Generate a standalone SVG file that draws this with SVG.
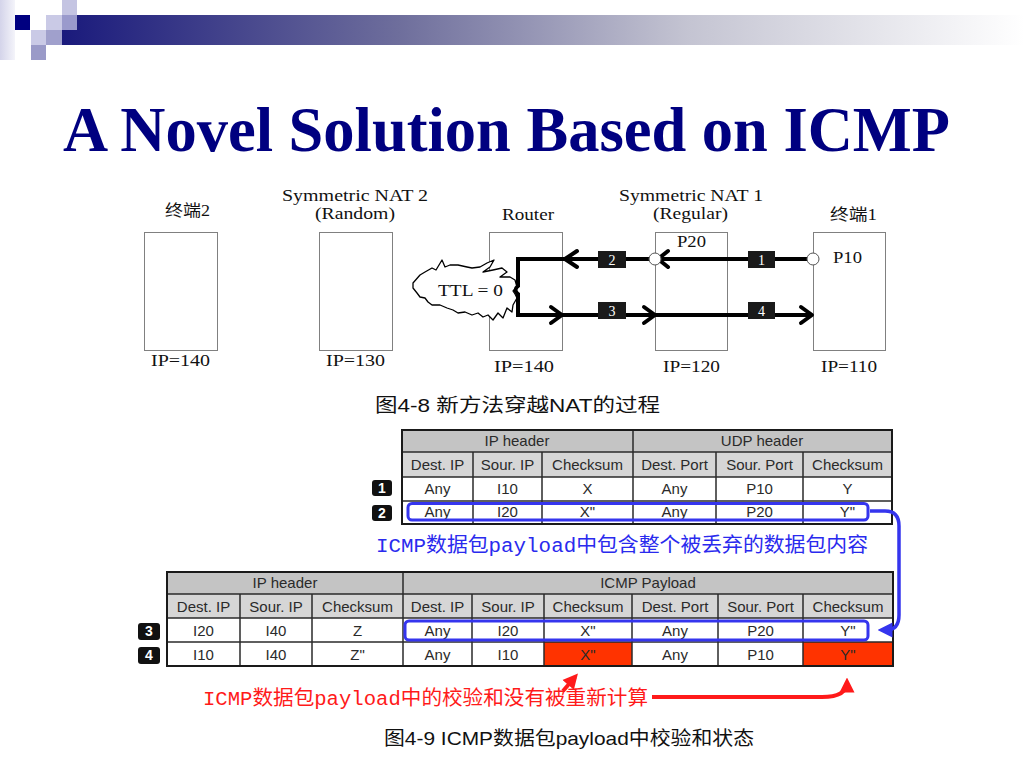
<svg xmlns="http://www.w3.org/2000/svg" width="1024" height="768" viewBox="0 0 1024 768">
<style>
.title{font-family:"Liberation Serif","Times New Roman",serif;font-weight:bold;font-size:64px;fill:#000080}
.lbl{font-family:"Liberation Serif","Noto Sans CJK SC",serif;font-size:16px;fill:#111}
.box{fill:#fff;stroke:#808080;stroke-width:1}
.flow{fill:none;stroke:#000;stroke-width:4}
.chev{fill:none;stroke:#000;stroke-width:4;stroke-linecap:round;stroke-linejoin:round}
.num{fill:#1a1a1a}
.numt{font-family:"Liberation Serif",serif;font-size:14px;fill:#fff;text-anchor:middle}
.port{fill:#fff;stroke:#555;stroke-width:1}
.th{fill:#c4c4c4}
.ch{fill:#d6d6d6}
.red{fill:#ff3300}
.tl{stroke:#2a2a2a;stroke-width:1.5}
.tout{fill:none;stroke:#1a1a1a;stroke-width:2}
.tt{font-family:"Liberation Sans",Arial,sans-serif;font-size:15px;fill:#2a2a2a;text-anchor:middle}
.badge{fill:#111}
.badget{font-family:"Liberation Sans",Arial,sans-serif;font-size:14px;font-weight:bold;fill:#fff;text-anchor:middle}
.hl{fill:none;stroke:#3535ee;stroke-width:3}
.note{font-family:"Liberation Mono","Noto Sans CJK SC",monospace;font-size:20px}
.cap{font-family:"Liberation Sans","Noto Sans CJK SC",sans-serif;font-size:19px;fill:#111}
</style>
<defs>
<linearGradient id="bar" x1="0" y1="0" x2="1" y2="0">
<stop offset="0" stop-color="#1a1a7c"/>
<stop offset="0.35" stop-color="#6e6e9c"/>
<stop offset="0.65" stop-color="#c4c4d2"/>
<stop offset="1" stop-color="#ffffff"/>
</linearGradient>
<linearGradient id="edge" x1="0" y1="0" x2="1" y2="0">
<stop offset="0" stop-color="#d4d4ea"/>
<stop offset="1" stop-color="#f4f4fa"/>
</linearGradient>
<marker id="ab" viewBox="0 0 10 10" refX="7" refY="5" markerUnits="userSpaceOnUse" markerWidth="15" markerHeight="16" orient="auto">
<path d="M0,0 L10,5 L0,10 z" fill="#3535ee"/>
</marker>
<marker id="ar" viewBox="0 0 10 10" refX="7" refY="5" markerUnits="userSpaceOnUse" markerWidth="15" markerHeight="17" orient="auto">
<path d="M0,0 L10,5 L0,10 z" fill="#ff1a1a"/>
</marker>
</defs>
<rect width="1024" height="768" fill="#fff"/>

<!-- decoration -->
<g id="decor">
<rect x="0" y="0" width="15" height="60" fill="url(#edge)"/>
<rect x="62" y="15" width="962" height="30" fill="url(#bar)"/>
<rect x="15" y="15" width="15" height="15" fill="#000080"/>
<rect x="62" y="0" width="15" height="15" fill="#c4c4e2"/>
<rect x="46" y="15" width="16" height="15" fill="#cacae6"/>
<rect x="62" y="15" width="15" height="15" fill="#9a9acc"/>
<rect x="31" y="30" width="15" height="15" fill="#cacae6"/>
<rect x="46" y="30" width="16" height="15" fill="#a0a0cc"/>
<rect x="31" y="45" width="15" height="15" fill="#9a9ac8"/>
</g>

<text class="title" x="63" y="151" textLength="887" lengthAdjust="spacingAndGlyphs">A Novel Solution Based on ICMP</text>

<!-- top diagram nodes -->
<g id="term2">
<rect class="box" x="144.5" y="232.5" width="73" height="118"/>
<text class="lbl" x="165" y="216" textLength="45" lengthAdjust="spacingAndGlyphs">终端2</text>
<text class="lbl" x="151" y="366" textLength="59" lengthAdjust="spacingAndGlyphs">IP=140</text>
</g>
<g id="nat2">
<rect class="box" x="319.5" y="232.5" width="73" height="118"/>
<text class="lbl" x="282" y="201" textLength="146" lengthAdjust="spacingAndGlyphs">Symmetric NAT 2</text>
<text class="lbl" x="315" y="219" textLength="80" lengthAdjust="spacingAndGlyphs">(Random)</text>
<text class="lbl" x="326" y="366" textLength="59" lengthAdjust="spacingAndGlyphs">IP=130</text>
</g>
<g id="router">
<rect class="box" x="489.5" y="232.5" width="73" height="118"/>
<text class="lbl" x="502" y="220" textLength="52" lengthAdjust="spacingAndGlyphs">Router</text>
<text class="lbl" x="494" y="372" textLength="60" lengthAdjust="spacingAndGlyphs">IP=140</text>
</g>
<g id="nat1">
<rect class="box" x="655.5" y="232.5" width="72" height="118"/>
<text class="lbl" x="619" y="201" textLength="144" lengthAdjust="spacingAndGlyphs">Symmetric NAT 1</text>
<text class="lbl" x="653" y="219" textLength="75" lengthAdjust="spacingAndGlyphs">(Regular)</text>
<text class="lbl" x="677" y="247" textLength="29" lengthAdjust="spacingAndGlyphs">P20</text>
<text class="lbl" x="663" y="372" textLength="57" lengthAdjust="spacingAndGlyphs">IP=120</text>
</g>
<g id="term1">
<rect class="box" x="813.5" y="232.5" width="72" height="118"/>
<text class="lbl" x="830" y="220" textLength="47" lengthAdjust="spacingAndGlyphs">终端1</text>
<text class="lbl" x="833" y="263" textLength="29" lengthAdjust="spacingAndGlyphs">P10</text>
<text class="lbl" x="821" y="372" textLength="56" lengthAdjust="spacingAndGlyphs">IP=110</text>
</g>
<g id="ttl">
<path d="M413,283 L420,275 L425,272 L432,268 L436,270 L442,260 L445,267 L450,265 L458,265 L467,267 L472,268 L480,267 L487,263 L494,260 L490,267 L483,272 L493,270 L502,268 L507,272 L500,277 L510,277 L515,280 L517,287 L513,291 L515,294 L517,298 L513,305 L512,312 L507,308 L503,318 L498,313 L493,320 L488,315 L483,317 L478,313 L472,315 L465,312 L458,313 L453,310 L447,308 L440,305 L432,305 L428,302 L425,298 L420,297 L417,293 L413,288 Z" fill="#fff" stroke="#000" stroke-width="1.3" stroke-linejoin="round"/>
<text class="lbl" x="438" y="296" textLength="65" lengthAdjust="spacingAndGlyphs">TTL = 0</text>
</g>

<text class="cap" x="375" y="412" textLength="285" lengthAdjust="spacingAndGlyphs">图4-8 新方法穿越NAT的过程</text>

<!-- table 1 -->
<g id="table1">
<rect class="th" x="402" y="430" width="490" height="22"/>
<rect class="ch" x="402" y="452" width="490" height="25"/>
<rect x="402" y="477" width="490" height="47" fill="#fff"/>
<line class="tl" x1="402" y1="452" x2="892" y2="452"/>
<line class="tl" x1="402" y1="477" x2="892" y2="477"/>
<line class="tl" x1="402" y1="501" x2="892" y2="501"/>
<line class="tl" x1="633" y1="430" x2="633" y2="524"/>
<line class="tl" x1="473" y1="452" x2="473" y2="524"/>
<line class="tl" x1="542" y1="452" x2="542" y2="524"/>
<line class="tl" x1="716" y1="452" x2="716" y2="524"/>
<line class="tl" x1="803" y1="452" x2="803" y2="524"/>
<rect class="tout" x="402" y="430" width="490" height="94"/>
<text class="tt" x="517" y="446">IP header</text>
<text class="tt" x="762" y="446">UDP header</text>
<text class="tt" x="437.5" y="470">Dest. IP</text>
<text class="tt" x="507.5" y="470">Sour. IP</text>
<text class="tt" x="587.5" y="470">Checksum</text>
<text class="tt" x="674.5" y="470">Dest. Port</text>
<text class="tt" x="759.5" y="470">Sour. Port</text>
<text class="tt" x="847.5" y="470">Checksum</text>
<text class="tt" x="437.5" y="494">Any</text>
<text class="tt" x="507.5" y="494">I10</text>
<text class="tt" x="587.5" y="494">X</text>
<text class="tt" x="674.5" y="494">Any</text>
<text class="tt" x="759.5" y="494">P10</text>
<text class="tt" x="847.5" y="494">Y</text>
<text class="tt" x="437.5" y="517">Any</text>
<text class="tt" x="507.5" y="517">I20</text>
<text class="tt" x="587.5" y="517">X"</text>
<text class="tt" x="674.5" y="517">Any</text>
<text class="tt" x="759.5" y="517">P20</text>
<text class="tt" x="847.5" y="517">Y"</text>
<rect class="hl" x="408" y="503.5" width="460" height="16.5" rx="4"/>
<rect class="badge" x="372" y="480" width="20" height="16" rx="3"/>
<text class="badget" x="382" y="493">1</text>
<rect class="badge" x="372" y="505" width="20" height="16" rx="3"/>
<text class="badget" x="382" y="518">2</text>
</g>

<text class="note" x="376" y="552" fill="#2a2aee" textLength="492" lengthAdjust="spacingAndGlyphs">ICMP数据包payload中包含整个被丢弃的数据包内容</text>

<!-- table 2 -->
<g id="table2">
<rect class="th" x="167" y="572" width="726" height="22"/>
<rect class="ch" x="167" y="594" width="726" height="24"/>
<rect x="167" y="618" width="726" height="48" fill="#fff"/>
<rect class="red" x="544" y="642" width="88" height="24"/>
<rect class="red" x="803" y="642" width="90" height="24"/>
<line class="tl" x1="167" y1="594" x2="893" y2="594"/>
<line class="tl" x1="167" y1="618" x2="893" y2="618"/>
<line class="tl" x1="167" y1="642" x2="893" y2="642"/>
<line class="tl" x1="403" y1="572" x2="403" y2="666"/>
<line class="tl" x1="240" y1="594" x2="240" y2="666"/>
<line class="tl" x1="312" y1="594" x2="312" y2="666"/>
<line class="tl" x1="472" y1="594" x2="472" y2="666"/>
<line class="tl" x1="544" y1="594" x2="544" y2="666"/>
<line class="tl" x1="632" y1="594" x2="632" y2="666"/>
<line class="tl" x1="718" y1="594" x2="718" y2="666"/>
<line class="tl" x1="803" y1="594" x2="803" y2="666"/>
<rect class="tout" x="167" y="572" width="726" height="94"/>
<text class="tt" x="285" y="588">IP header</text>
<text class="tt" x="648" y="588">ICMP Payload</text>
<text class="tt" x="203.5" y="612">Dest. IP</text>
<text class="tt" x="276" y="612">Sour. IP</text>
<text class="tt" x="357.5" y="612">Checksum</text>
<text class="tt" x="437.5" y="612">Dest. IP</text>
<text class="tt" x="508" y="612">Sour. IP</text>
<text class="tt" x="588" y="612">Checksum</text>
<text class="tt" x="675" y="612">Dest. Port</text>
<text class="tt" x="760.5" y="612">Sour. Port</text>
<text class="tt" x="848" y="612">Checksum</text>
<text class="tt" x="203.5" y="636">I20</text>
<text class="tt" x="276" y="636">I40</text>
<text class="tt" x="357.5" y="636">Z</text>
<text class="tt" x="437.5" y="636">Any</text>
<text class="tt" x="508" y="636">I20</text>
<text class="tt" x="588" y="636">X"</text>
<text class="tt" x="675" y="636">Any</text>
<text class="tt" x="760.5" y="636">P20</text>
<text class="tt" x="848" y="636">Y"</text>
<text class="tt" x="203.5" y="660">I10</text>
<text class="tt" x="276" y="660">I40</text>
<text class="tt" x="357.5" y="660">Z"</text>
<text class="tt" x="437.5" y="660">Any</text>
<text class="tt" x="508" y="660">I10</text>
<text class="tt" x="588" y="660">X"</text>
<text class="tt" x="675" y="660">Any</text>
<text class="tt" x="760.5" y="660">P10</text>
<text class="tt" x="848" y="660">Y"</text>
<rect class="hl" x="405" y="621" width="463" height="19" rx="4"/>
<rect class="badge" x="138" y="623" width="22" height="17" rx="3"/>
<text class="badget" x="149" y="636">3</text>
<rect class="badge" x="138" y="647" width="22" height="17" rx="3"/>
<text class="badget" x="149" y="660">4</text>
</g>

<text class="note" x="203" y="705" fill="#ff1a1a" textLength="445" lengthAdjust="spacingAndGlyphs">ICMP数据包payload中的校验和没有被重新计算</text>

<text class="cap" x="384" y="745" textLength="370" lengthAdjust="spacingAndGlyphs">图4-9 ICMP数据包payload中校验和状态</text>

<!-- connectors -->
<g id="connectors">
<path class="flow" d="M807,259 L518,259 L518,286 Q513,290 518,294 L518,315 L811,315"/>
<polyline class="chev" points="577,251 565,259 577,267"/>
<polyline class="chev" points="668,251 658,259 668,267"/>
<polyline class="chev" points="551,307 562,315 551,323"/>
<polyline class="chev" points="644,307 655,315 644,323"/>
<polyline class="chev" points="801,307 812,315 801,323"/>
<circle class="port" cx="655" cy="259" r="6"/>
<circle class="port" cx="813" cy="259" r="6"/>
<rect class="num" x="598" y="251" width="28" height="17"/>
<text class="numt" x="612" y="265">2</text>
<rect class="num" x="748" y="251" width="27" height="17"/>
<text class="numt" x="761.5" y="265">1</text>
<rect class="num" x="598" y="302" width="28" height="17"/>
<text class="numt" x="612" y="316">3</text>
<rect class="num" x="748" y="302" width="27" height="17"/>
<text class="numt" x="761.5" y="316">4</text>
<path d="M870,511 L885,511 Q899,511 899,526 L899,615 Q899,630 886,630 L882,630" fill="none" stroke="#3535ee" stroke-width="3.5" marker-end="url(#ab)"/>
<path d="M652,697 L822,697 Q847,697 847,682" fill="none" stroke="#ff1a1a" stroke-width="4" marker-end="url(#ar)"/>
<path d="M563,691 L575,677" fill="none" stroke="#ff1a1a" stroke-width="4" marker-end="url(#ar)"/>
</g>
</svg>
